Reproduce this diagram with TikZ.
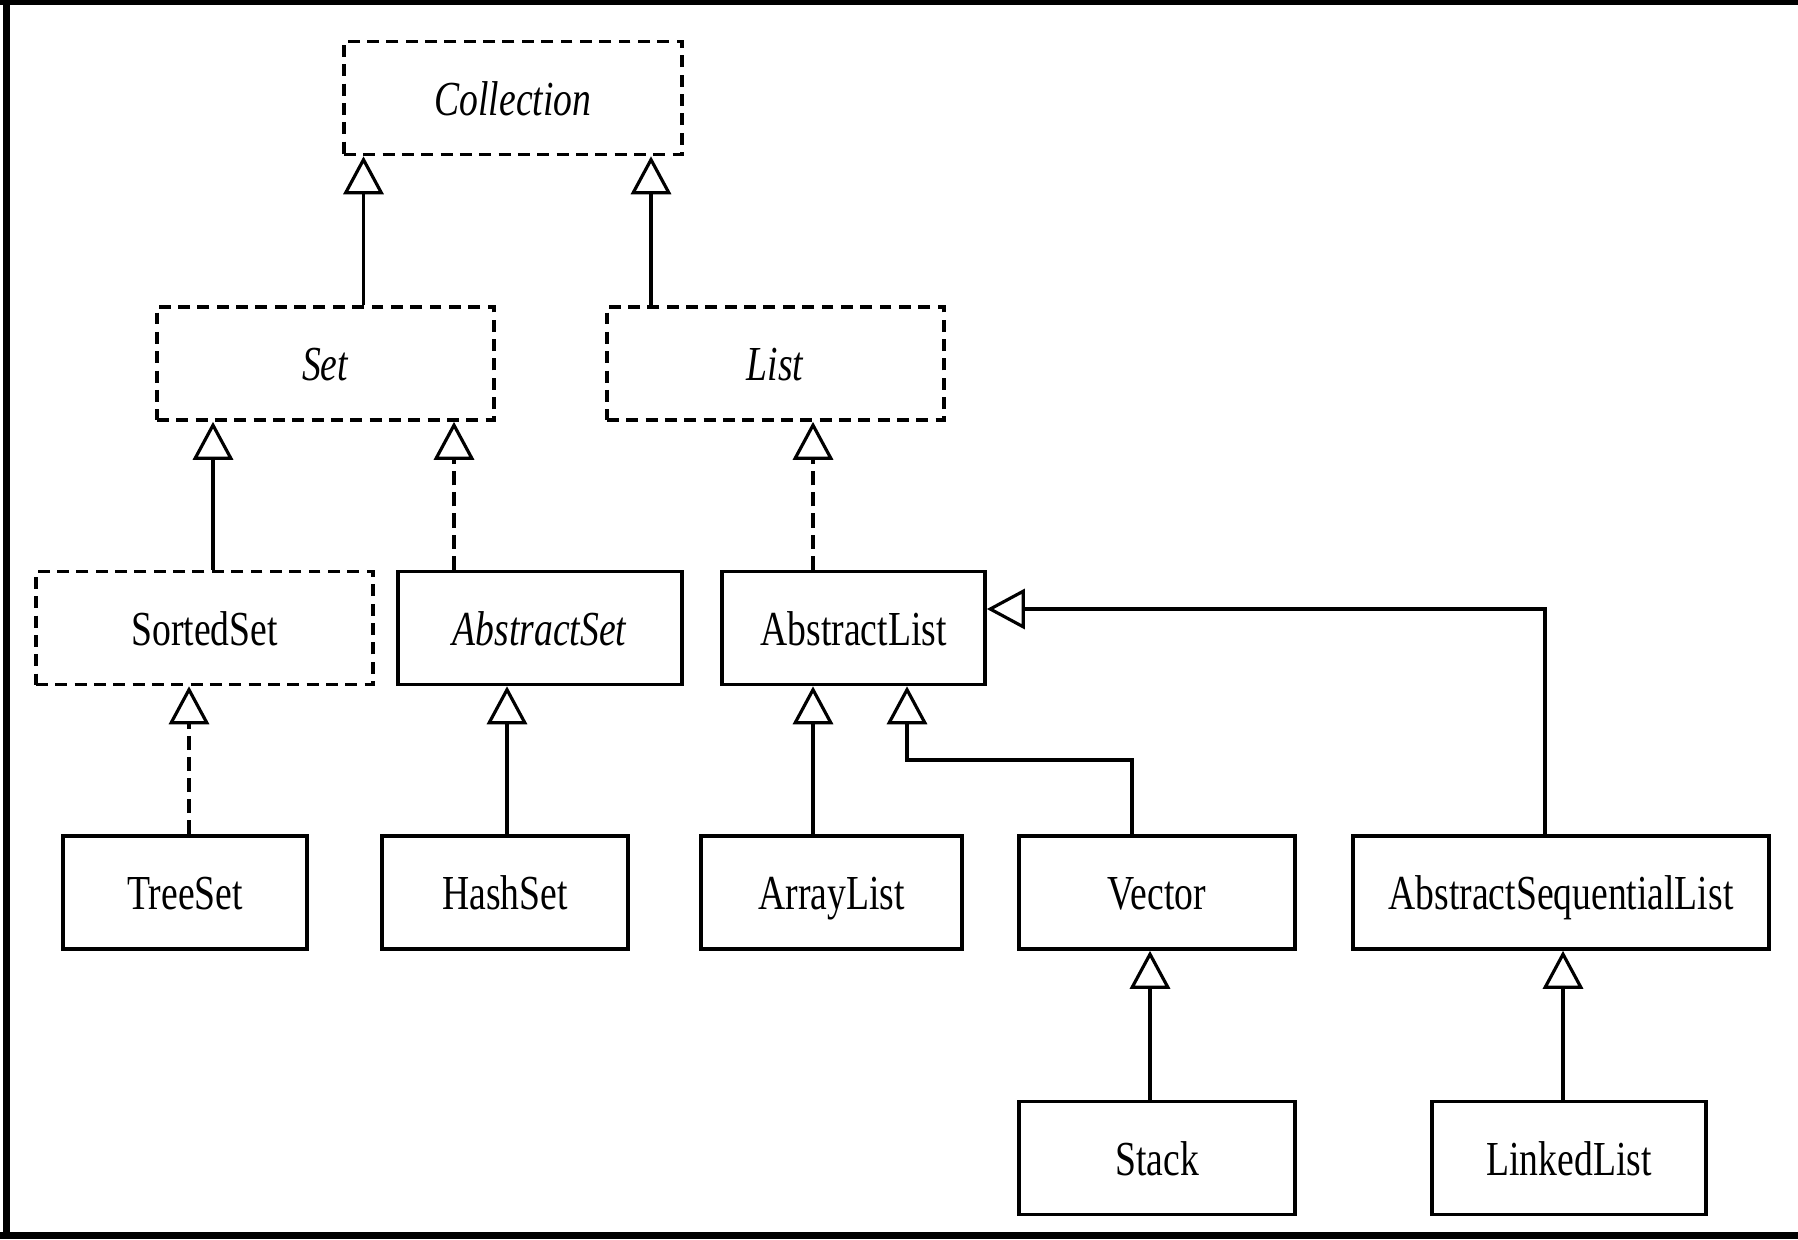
\documentclass[tikz,border=0pt]{standalone}
\usepackage{fontspec}
\setmainfont{Liberation Serif}[FakeStretch=0.77]
\usetikzlibrary{arrows.meta}
\tikzset{
	cls/.style={draw=black,line width=1pt,fill=white,minimum height=1.13cm,inner sep=0pt,text height=11pt,text depth=1.2pt,font=\fontsize{13.9}{16}\selectfont},
	iface/.style={cls,dash pattern=on 3.4pt off 2.1pt},
	edge/.style={draw,black,line width=.9pt,-{Triangle[open,length=10.8pt,width=11.4pt]}},
	dedge/.style={edge,dash pattern=on 4pt off 2pt}
}
\begin{document}
\begin{tikzpicture}[x = {(0.01cm,0cm)},
                    y = {(0cm,-0.01cm)}]

\useasboundingbox (0,0) rectangle (1798,1239);
\fill[white] (0,0) rectangle (1798,1239);
\fill[black] (3,0) rectangle (10,1239);
\fill[black] (0,0) rectangle (1798,5);
\fill[black] (0,1232) rectangle (1798,1239);

\node[iface,minimum width=3.38cm] (coll) at (513,98) {\textit{Collection}};

\node[iface,minimum width=3.37cm] (set) at (325.5,363.5) {\textit{Set}};
\node[iface,minimum width=3.37cm] (list) at (775.5,363.5) {\textit{List}};

\node[iface,minimum width=3.37cm] (sorted) at (204.5,628) {SortedSet};
\node[cls,minimum width=2.84cm] (aset) at (540,628) {\textit{AbstractSet}};
\node[cls,minimum width=2.63cm] (alist) at (853.5,628) {AbstractList};

\node[cls,minimum width=2.44cm] (tree) at (185,892.5) {TreeSet};
\node[cls,minimum width=2.46cm] (hash) at (505,892.5) {HashSet};
\node[cls,minimum width=2.61cm] (array) at (831.5,892.5) {ArrayList};
\node[cls,minimum width=2.76cm] (vec) at (1157,892.5) {Vector};
\node[cls,minimum width=4.16cm] (asl) at (1561,892.5) {AbstractSequentialList};

\node[cls,minimum width=2.76cm] (stack) at (1157,1158) {Stack};
\node[cls,minimum width=2.74cm] (linked) at (1569,1158) {LinkedList};

% lanes of the connectors
\coordinate (xset) at (363.5,0);
\coordinate (xlist) at (651,0);
\coordinate (xsorted) at (213,0);
\coordinate (xaset) at (454,0);
\coordinate (xalist) at (813,0);
\coordinate (xtree) at (189,0);
\coordinate (xhash) at (507,0);
\coordinate (xstack) at (1150,0);
\coordinate (xlinked) at (1563,0);
\coordinate (vx) at (1132,760);
\coordinate (vbend) at (907,760);
\coordinate (ax) at (1545,609);

\draw[edge] (xset |- set.north) to (xset |- coll.south);
\draw[edge] (xlist |- list.north) to (xlist |- coll.south);

\draw[edge] (xsorted |- sorted.north) to (xsorted |- set.south);
\draw[dedge] (xaset |- aset.north) to (xaset |- set.south);
\draw[dedge] (xalist |- alist.north) to (xalist |- list.south);

\draw[dedge] (xtree |- tree.north) to (xtree |- sorted.south);
\draw[edge] (xhash |- hash.north) to (xhash |- aset.south);
\draw[edge] (xalist |- array.north) to (xalist |- alist.south);
\draw[edge] (vx |- vec.north) -- (vx) -- (vbend) -- (vbend |- alist.south);
\draw[edge] (ax |- asl.north) -- (ax) -- (ax -| alist.east);

\draw[edge] (xstack |- stack.north) to (xstack |- vec.south);
\draw[edge] (xlinked |- linked.north) to (xlinked |- asl.south);

\end{tikzpicture}
\end{document}
